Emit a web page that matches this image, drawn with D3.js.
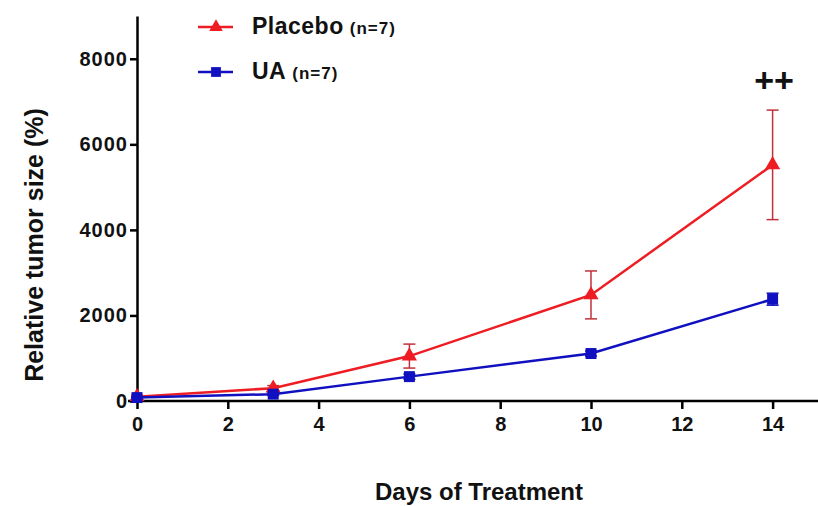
<!DOCTYPE html>
<html>
<head>
<meta charset="utf-8">
<script src="https://cdn.jsdelivr.net/npm/d3@7"></script>
<style>
  body { margin: 0; background: #fff; }
  svg { display: block; font-family: "Liberation Sans", Arial, sans-serif; font-weight: bold; }
</style>
</head>
<body>
<svg id="chart" width="818" height="506"></svg>
<script>
// data
const days = [0, 3, 6, 10, 14];
const placebo = [100, 300, 1050, 2480, 5520];
const placeboErr = [40, 60, 280, 560, 1280];
const ua = [80, 160, 570, 1110, 2380];
const uaErr = [20, 30, 60, 60, 140];
const xTicks = [0, 2, 4, 6, 8, 10, 12, 14];
const yTicks = [0, 2000, 4000, 6000, 8000];

const svg = d3.select("#chart");
const x = d3.scaleLinear().domain([0, 15]).range([137, 818]);
const y = d3.scaleLinear().domain([0, 9000]).range([401, 16]);

const red = "#ee1d23", blue = "#1010c0";

// axes
svg.append("g")
    .attr("transform", "translate(0,401)")
    .call(d3.axisBottom(x).tickValues(xTicks).tickSize(8).tickPadding(8).tickSizeOuter(0))
    .call(g => g.select(".domain").attr("stroke-width", 2.5).attr("d", "M128,0H818"))
    .call(g => g.selectAll(".tick line").attr("stroke-width", 2.5))
    .call(g => g.selectAll("text").attr("font-size", 20).attr("fill", "#111"));

svg.append("g")
    .attr("transform", "translate(137,0)")
    .call(d3.axisLeft(y).tickValues(yTicks).tickFormat(d3.format("d")).tickSize(7).tickPadding(2).tickSizeOuter(0))
    .call(g => g.select(".domain").attr("stroke-width", 2.5))
    .call(g => g.selectAll(".tick line").attr("stroke-width", 2.5))
    .call(g => g.selectAll("text").attr("font-size", 20).attr("fill", "#111").attr("letter-spacing", 1));

// axis titles
svg.append("text")
    .attr("transform", "translate(43,245) rotate(-90)")
    .attr("text-anchor", "middle")
    .attr("font-size", 25)
    .attr("fill", "#111")
    .text("Relative tumor size (%)");

svg.append("text")
    .attr("x", 479).attr("y", 500)
    .attr("text-anchor", "middle")
    .attr("font-size", 24)
    .attr("fill", "#111")
    .text("Days of Treatment");

const series = [
    { name: "Placebo", vals: placebo, err: placeboErr, color: red, sym: d3.symbolTriangle, size: 100, ly: 27 },
    { name: "UA", vals: ua, err: uaErr, color: blue, sym: d3.symbolSquare, size: 120, ly: 72 }
];

const line = d3.line().x((d, i) => x(days[i])).y(d => y(d));

series.forEach(s => {
    const g = svg.append("g");
    // error bars
    const eb = g.selectAll(".eb").data(s.vals).join("g").attr("stroke", s.name === "UA" ? s.color : "#c0303a").attr("stroke-width", 1.5);
    eb.append("line")
        .attr("x1", (d, i) => x(days[i])).attr("x2", (d, i) => x(days[i]))
        .attr("y1", (d, i) => y(d + s.err[i])).attr("y2", (d, i) => y(d - s.err[i]));
    eb.append("line")
        .attr("x1", (d, i) => x(days[i]) - 6).attr("x2", (d, i) => x(days[i]) + 6)
        .attr("y1", (d, i) => y(d + s.err[i])).attr("y2", (d, i) => y(d + s.err[i]));
    eb.append("line")
        .attr("x1", (d, i) => x(days[i]) - 6).attr("x2", (d, i) => x(days[i]) + 6)
        .attr("y1", (d, i) => y(d - s.err[i])).attr("y2", (d, i) => y(d - s.err[i]));

    g.append("path")
        .datum(s.vals)
        .attr("fill", "none")
        .attr("stroke", s.color)
        .attr("stroke-width", 2.5)
        .attr("d", line);

    g.selectAll(".pt").data(s.vals).join("path")
        .attr("transform", (d, i) => `translate(${x(days[i])},${y(d)})`)
        .attr("d", d3.symbol(s.sym, s.size))
        .attr("fill", s.color);

    // legend
    g.append("line")
        .attr("x1", 198).attr("x2", 233).attr("y1", s.ly).attr("y2", s.ly)
        .attr("stroke", s.color).attr("stroke-width", 2.5);
    g.append("path")
        .attr("transform", `translate(216,${s.ly})`)
        .attr("d", d3.symbol(s.sym, s.size * 0.8))
        .attr("fill", s.color);
    const t = g.append("text")
        .attr("x", 252).attr("y", s.ly + 7)
        .attr("fill", "#111")
        .attr("font-size", 23)
        .attr("letter-spacing", 0.5)
        .text(s.name);
    t.append("tspan").attr("font-size", 17).attr("dx", 6).attr("letter-spacing", 1).text("(n=7)");
});

// significance mark
svg.append("text")
    .attr("x", 774).attr("y", 92)
    .attr("text-anchor", "middle")
    .attr("font-size", 34)
    .attr("fill", "#111")
    .text("++");
</script>
</body>
</html>
